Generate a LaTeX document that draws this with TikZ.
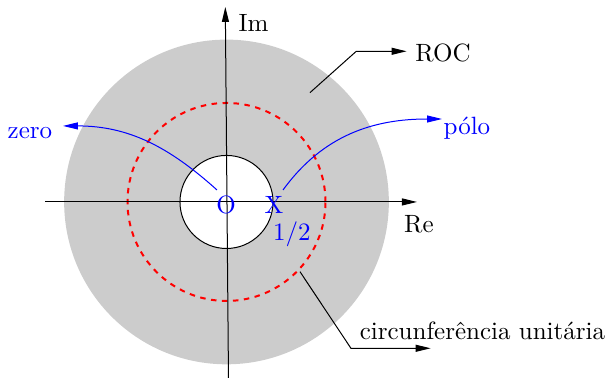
\documentclass[tikz,border=0pt]{standalone}
\usetikzlibrary{arrows.meta, positioning}
\definecolor{roccol}{RGB}{204, 204, 204}
\definecolor{markcol}{RGB}{0, 0, 255}
\definecolor{unitcol}{RGB}{255, 0, 0}
\definecolor{linecol}{RGB}{0, 0, 0}
\tikzset{
  axisline/.style = {-{Triangle[length=6pt, width=2.8pt]}, draw=linecol},
  lead/.style     = {-{Triangle[length=6pt, width=2.8pt]}, draw=linecol},
  ptr/.style      = {-{Triangle[length=6pt, width=2.8pt]}, draw=markcol},
  unitring/.style = {draw=unitcol, line width=0.8pt,
                     dash pattern=on 2.2pt off 2.2pt},
  hole/.style     = {fill=white, draw=linecol},
  zlbl/.style     = {text=markcol, anchor=base},
  txt/.style      = {text=linecol, anchor=base},
}

\begin{document}
\begin{tikzpicture}[x=39.6pt, y=39.6pt]
  \useasboundingbox (-2.303,-1.778) rectangle (3.859,2.040);

  %% ---------------- the regions ----------------
  \coordinate (o) at (-0.015,0);
  \fill[roccol] (o) circle[radius=1.64];
  \filldraw[hole] (o) circle[radius=0.47];
  \draw[unitring] (o) circle[radius=1];

  %% ---------------- the axes ----------------
  \coordinate (releft)  at (-1.848,0);
  \coordinate (reright) at (1.909,0);
  \coordinate (imlow)   at (0.005,-1.778);
  \coordinate (imtop)   at (-0.027,1.97);
  \draw[axisline] (releft) -- (reright);
  \draw[axisline] (imlow) -- (imtop);
  \node[txt] (im) at (0.258,1.717) {Im};
  \node[txt] (re) at (1.929,-0.313) {Re};

  %% ---------------- zero and pole ----------------
  \node[zlbl] (zo)   at (-0.02,-0.121) {O};
  \node[zlbl] (px)   at (0.465,-0.121) {X};
  \node[zlbl] (half) at (0.646,-0.394) {1/2};
  \node[zlbl] (zero) at (-2.0,0.646) {zero};
  \node[zlbl] (polo) at (2.414,0.677) {pólo};

  \coordinate (zfrom) at (-0.111,0.121);
  \coordinate (zto)   at (-1.667,0.768);
  \coordinate (pfrom) at (0.556,0.121);
  \coordinate (pto)   at (2.162,0.838);
  \draw[ptr] (zfrom) to[out=138, in=0] (zto);
  \draw[ptr] (pfrom) to[out=54, in=180] (pto);

  %% ---------------- the two leaders ----------------
  \node[txt] (roc) at (2.172,1.414) {ROC};
  \coordinate (rocfoot) at (0.828,1.104);
  \coordinate (rocbend) at (1.296,1.522);
  \draw[lead] (rocfoot) -- (rocbend) -- (rocbend -| roc.west);

  \coordinate (ucfoot) at (0.727,-0.704);
  \coordinate (ucbend) at (1.242,-1.478);
  \coordinate (uctip)  at (2.047,-1.478);
  \node[anchor=south west] (uc) at (ucbend) {circunferência unitária};
  \draw[lead] (ucfoot) -- (ucbend) -- (uctip);

\end{tikzpicture}
\end{document}
